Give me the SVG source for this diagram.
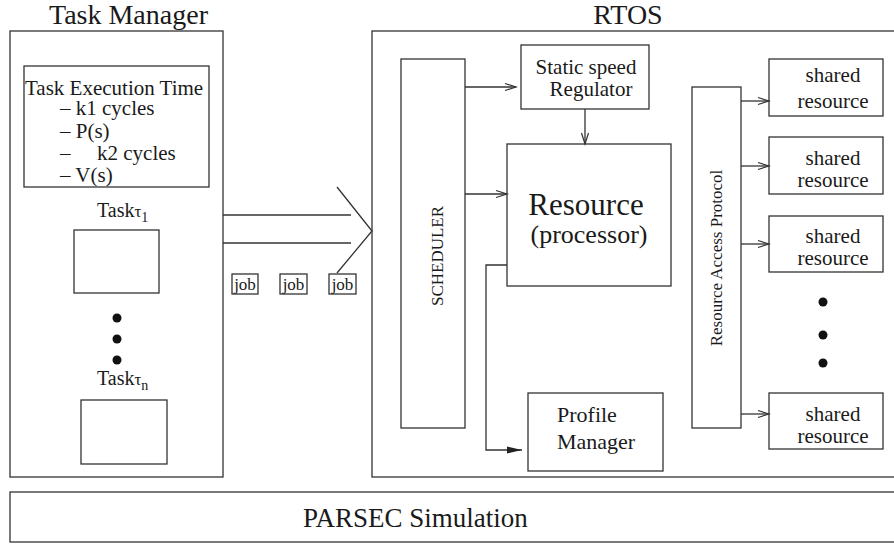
<svg xmlns="http://www.w3.org/2000/svg" width="894" height="544" viewBox="0 0 894 544" font-family="'Liberation Serif', 'Times New Roman', 'DejaVu Serif', serif">
<style>
text{font-family:"Liberation Serif","Times New Roman","DejaVu Serif",serif;fill:#1a1a1a}
.box{fill:#fff;stroke:#333;stroke-width:1.3}
.ln{fill:none;stroke:#333;stroke-width:1.3}
.t21{font-size:21px}
.mid{text-anchor:middle}
</style>
<defs>
<marker id="open" markerUnits="userSpaceOnUse" markerWidth="14" markerHeight="10" refX="12" refY="5" orient="auto">
<path d="M1,1.5 L12,5 L1,8.5" fill="none" stroke="#333" stroke-width="1.2"/>
</marker>
<marker id="fill" markerUnits="userSpaceOnUse" markerWidth="16" markerHeight="10" refX="15" refY="5" orient="auto">
<path d="M0,1.5 L15,5 L0,8.5 Z" fill="#222"/>
</marker>
</defs>
<rect width="894" height="544" fill="#fff"/>

<g id="task-manager">
<text x="128.5" y="24" class="mid" font-size="28">Task Manager</text>
<rect class="box" x="10" y="31" width="213" height="446"/>
</g>
<g id="task-execution-time">
<rect class="box" x="24" y="66" width="185" height="121"/>
<text x="25" y="95" class="t21">Task Execution Time</text>
<text x="60" y="115" class="t21">– k1 cycles</text>
<text x="60" y="138" class="t21">– P(s)</text>
<text x="60" y="160" class="t21">–<tspan x="97">k2 cycles</tspan></text>
<text x="60" y="182" class="t21">– V(s)</text>
</g>
<g id="task1">
<text x="97" y="217" font-size="20">Task<tspan font-size="17">τ</tspan><tspan font-size="14" dy="5">1</tspan></text>
<rect class="box" x="74" y="230" width="85" height="63"/>
</g>
<g id="task-dots">
<circle cx="117" cy="318" r="4.5" fill="#111"/>
<circle cx="117" cy="339" r="4.5" fill="#111"/>
<circle cx="117" cy="360" r="4.5" fill="#111"/>
</g>
<g id="taskn">
<text x="97" y="385" font-size="20">Task<tspan font-size="17">τ</tspan><tspan font-size="14" dy="5">n</tspan></text>
<rect class="box" x="81" y="400" width="86" height="64"/>
</g>

<g id="jobs">
<rect class="box" x="232" y="274" width="26" height="20"/>
<text x="245" y="290" class="mid" font-size="17">job</text>
<rect class="box" x="280" y="274" width="27" height="20"/>
<text x="293.5" y="290" class="mid" font-size="17">job</text>
<rect class="box" x="329" y="274" width="27" height="20"/>
<text x="342.5" y="290" class="mid" font-size="17">job</text>
</g>

<g id="rtos">
<text x="628" y="24" class="mid" font-size="28">RTOS</text>
<rect class="box" x="372" y="31" width="540" height="446"/>
</g>
<g id="scheduler">
<rect class="box" x="401" y="59" width="64" height="369"/>
<text transform="translate(443,256) rotate(-90)" class="mid" font-size="17">SCHEDULER</text>
</g>
<g id="static-speed-regulator">
<rect class="box" x="521" y="45" width="128" height="64"/>
<text x="586" y="74" class="mid t21">Static speed</text>
<text x="591" y="96" class="mid t21">Regulator</text>
</g>
<g id="resource">
<rect class="box" x="507" y="144" width="164" height="142"/>
<text x="586" y="215" class="mid" font-size="31">Resource</text>
<text x="589" y="243" class="mid" font-size="26">(processor)</text>
</g>
<g id="profile-manager">
<rect class="box" x="528" y="393" width="135" height="78"/>
<text x="557" y="422" font-size="22">Profile</text>
<text x="557" y="449" font-size="22">Manager</text>
</g>
<g id="resource-access-protocol">
<rect class="box" x="692" y="87" width="49" height="341"/>
<text transform="translate(722,258) rotate(-90)" class="mid" font-size="17">Resource Access Protocol</text>
</g>
<g id="shared1">
<rect class="box" x="769" y="59" width="114" height="57"/>
<text x="833" y="82" class="mid t21">shared</text>
<text x="833" y="108" class="mid t21">resource</text>
</g>
<g id="shared2">
<rect class="box" x="769" y="137" width="114" height="57"/>
<text x="833" y="165" class="mid t21">shared</text>
<text x="833" y="187" class="mid t21">resource</text>
</g>
<g id="shared3">
<rect class="box" x="769" y="216" width="114" height="56"/>
<text x="833" y="243" class="mid t21">shared</text>
<text x="833" y="265" class="mid t21">resource</text>
</g>
<g id="shared-dots">
<circle cx="823" cy="302" r="4.5" fill="#111"/>
<circle cx="823" cy="335" r="4.5" fill="#111"/>
<circle cx="823" cy="363" r="4.5" fill="#111"/>
</g>
<g id="shared4">
<rect class="box" x="769" y="393" width="114" height="56"/>
<text x="833" y="421" class="mid t21">shared</text>
<text x="833" y="443" class="mid t21">resource</text>
</g>

<g id="parsec">
<rect class="box" x="10" y="492" width="900" height="50"/>
<text x="303" y="527" font-size="27">PARSEC Simulation</text>
</g>

<g id="connectors">
<line class="ln" x1="223" y1="215" x2="351" y2="215"/>
<line class="ln" x1="223" y1="243" x2="351" y2="243"/>
<polyline class="ln" points="337,187 372,231 337,273"/>
<line class="ln" x1="465" y1="87" x2="516" y2="87" marker-end="url(#open)"/>
<line class="ln" x1="465" y1="194" x2="507" y2="194" marker-end="url(#open)"/>
<line class="ln" x1="585" y1="109" x2="585" y2="144" marker-end="url(#open)"/>
<polyline class="ln" points="507,265 486,265 486,450 522,450" marker-end="url(#fill)"/>
<line class="ln" x1="741" y1="101" x2="769" y2="101" marker-end="url(#open)"/>
<line class="ln" x1="741" y1="166" x2="769" y2="166" marker-end="url(#open)"/>
<line class="ln" x1="741" y1="244" x2="769" y2="244" marker-end="url(#open)"/>
<line class="ln" x1="741" y1="414" x2="769" y2="414" marker-end="url(#open)"/>
</g>
</svg>
